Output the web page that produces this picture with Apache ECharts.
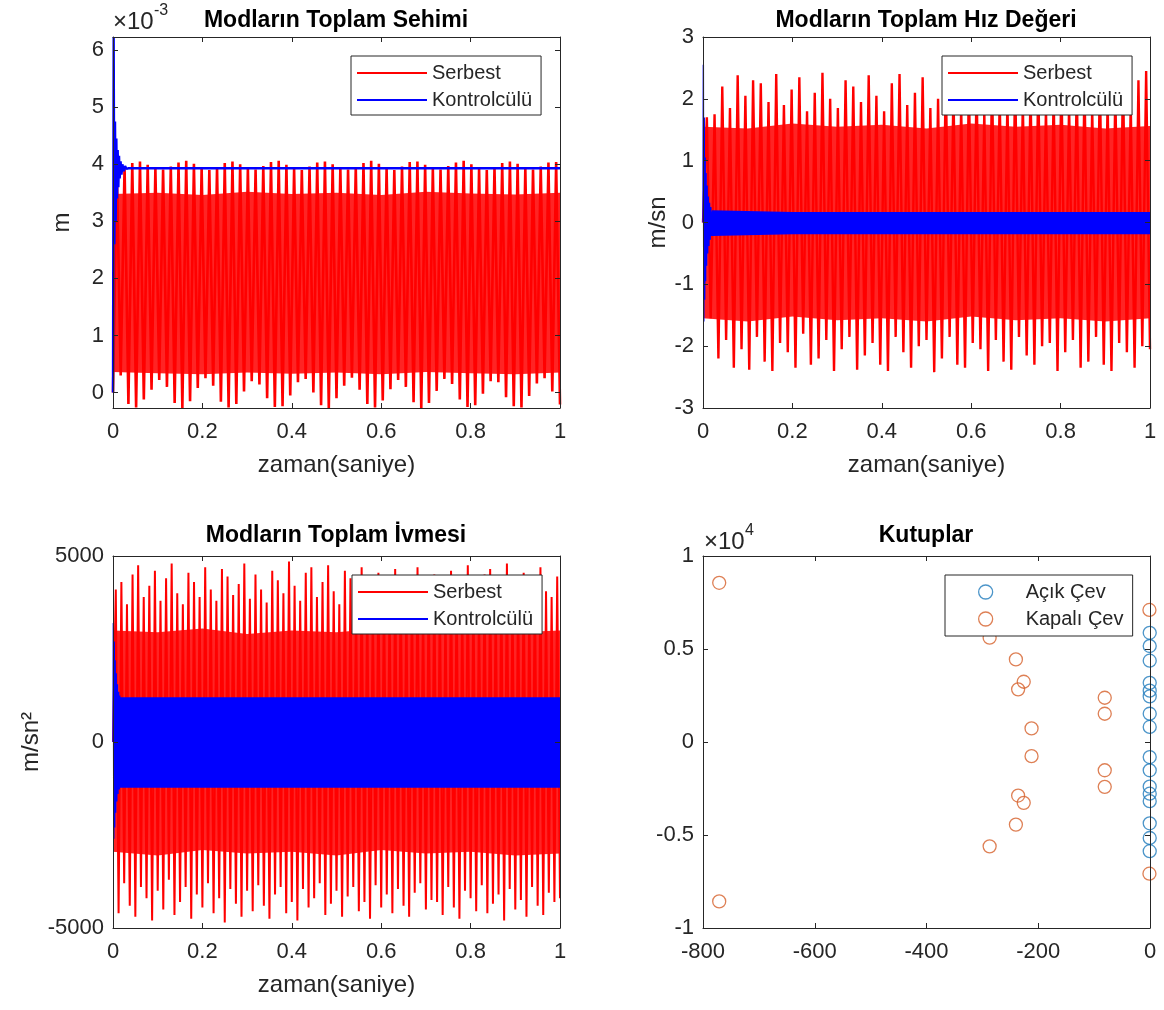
<!DOCTYPE html>
<html>
<head>
<meta charset="utf-8">
<title>Modların Toplam Değerleri</title>
<script src="https://cdn.jsdelivr.net/npm/echarts@6/dist/echarts.min.js"></script>
<style>
  html, body { margin: 0; background: #fff; }
  #chart { width: 1164px; height: 1010px; }
</style>
</head>
<body>
<div id="chart"></div>
<script>
// ---- data ----

// Sehim (x10^-3 m): peak / trough of each free-vibration cycle
const defMax = [3.90,3.97,4.02,4.05,3.99,3.93,3.91,3.96,4.03,4.06,
                4.01,3.94,3.90,3.95,4.02,4.05,4.00,3.93,3.91,3.97,
                4.04,4.06,3.99,3.92,3.90,3.96,4.03,4.05,4.00,3.94,
                3.91,3.95,4.02,4.06,4.01,3.93,3.90,3.96,4.04,4.05,
                3.99,3.92,3.91,3.97,4.03,4.06,4.00,3.93,3.90,3.95,
                4.02,4.05,4.01,3.94,3.91,3.96,4.03,4.04];
const defMin = [0.30,-0.20,-0.26,-0.12,0.05,0.22,0.10,-0.18,-0.27,-0.15,
                0.08,0.25,0.12,-0.16,-0.26,-0.20,0.02,0.20,0.14,-0.10,
                -0.25,-0.24,-0.05,0.18,0.24,0.00,-0.22,-0.27,-0.10,0.12,
                0.26,0.05,-0.20,-0.26,-0.14,0.06,0.22,0.10,-0.17,-0.27,
                -0.18,0.03,0.24,0.15,-0.12,-0.25,-0.22,-0.02,0.20,0.18,
                -0.08,-0.24,-0.26,-0.06,0.16,0.25,0.02,-0.21];
// dense (solid) part of the red trace, every 0.1 s
const coreT      = [0,0.1,0.2,0.3,0.4,0.5,0.6,0.7,0.8,0.9,1.0];
const defCoreLo  = [0.36,0.34,0.32,0.35,0.33,0.35,0.32,0.36,0.34,0.32,0.35];
const defCoreHi  = [3.48,3.50,3.46,3.52,3.48,3.50,3.46,3.52,3.49,3.47,3.50];
// controlled deflection
const blueDefT = [0,0.0015,0.003,0.0045,0.006,0.0075,0.009,0.0105,0.012,0.0135,0.015,0.017,0.019,0.021,0.024,0.027,0.030,0.035,1.0];
const blueDefV = [0,6.23,2.60,4.75,3.00,4.45,3.40,4.25,3.60,4.15,3.75,4.05,3.82,4.00,3.88,3.97,3.92,3.93,3.93];

// Hız (m/sn)
const velMax = [1.70,1.75,2.20,1.85,2.38,2.05,2.30,2.25,1.95,2.40,
                1.90,2.15,2.35,1.80,2.10,2.42,2.00,1.85,2.30,2.20,
                1.95,2.38,2.05,1.80,2.25,2.40,1.90,2.10,2.35,1.85,
                2.00,2.42,2.15,1.90,2.30,2.25,1.80,2.38,2.05,2.00,
                2.40,1.95,2.20,2.35,1.85,2.10,2.42,1.90,2.25,2.30,
                1.85,2.38,2.00,2.15,2.40,1.95,2.30,2.45];
const velMin = [-1.55,-2.20,-1.90,-2.35,-2.05,-2.38,-1.85,-2.25,-2.40,-1.95,
                -2.10,-2.35,-1.80,-2.30,-2.20,-1.90,-2.40,-2.05,-1.85,-2.38,
                -2.15,-1.95,-2.30,-2.40,-1.85,-2.10,-2.35,-2.00,-1.90,-2.42,
                -2.20,-1.85,-2.30,-2.35,-1.95,-2.05,-2.40,-1.90,-2.25,-2.38,
                -1.85,-2.15,-2.30,-2.00,-1.95,-2.40,-2.10,-1.90,-2.35,-2.25,
                -1.85,-2.30,-2.40,-1.95,-2.10,-2.35,-2.00,-2.05];
const velCoreLo = [-1.55,-1.60,-1.52,-1.58,-1.55,-1.60,-1.52,-1.58,-1.55,-1.60,-1.55];
const velCoreHi = [1.55,1.52,1.60,1.55,1.58,1.52,1.60,1.55,1.58,1.52,1.56];
const blueVelT = [0,0.0008,0.0018,0.0028,0.0038,0.0048,0.0058,0.0068,0.0080,0.0092,0.0105,0.0118,0.0132,0.0146,0.0160,0.0175,0.0190,0.0200];
const blueVelV = [0,2.55,-1.60,1.70,-1.25,1.05,-0.95,0.80,-0.70,0.60,-0.50,0.42,-0.38,0.32,-0.28,0.25,-0.22,0.18];
const blueVelBandT  = [0.02,0.2,0.4,0.6,0.8,1.0];
const blueVelBandLo = [-0.22,-0.19,-0.19,-0.19,-0.19,-0.19];
const blueVelBandHi = [0.20,0.17,0.17,0.17,0.17,0.17];

// İvme (m/sn^2)
const accMax = [4100,4300,3700,4500,4750,3900,4200,4600,3800,4400,
                4800,4000,3700,4550,4300,3900,4700,4100,3800,4650,
                4450,3950,4250,4800,3850,4500,4100,3750,4600,4350,
                4000,4850,4200,3800,4550,4700,3900,4300,4750,4050,
                3700,4600,4400,3950,4700,4150,3800,4550,4300,3900,
                4650,4450,4000,4250,4700,3850,4400,4500,4100,3750,
                4600,4300,3900,4750,4200,3800,4500,4650,4000,4350,
                4800,3950,4250,4550,3850,4400,4700,4050,3900,4450];
const accMin = [-4600,-3800,-4400,-4700,-3900,-4200,-4800,-4000,-4500,-3700,
                -4650,-4300,-3900,-4750,-4100,-4450,-3800,-4600,-4200,-4850,
                -3950,-4350,-4700,-4000,-4550,-3850,-4400,-4750,-4100,-3900,
                -4600,-4300,-4800,-3950,-4450,-4200,-3800,-4650,-4350,-4000,
                -4700,-4150,-3900,-4550,-4300,-4750,-3850,-4450,-4100,-4600,
                -3950,-4400,-4700,-4050,-3800,-4500,-4250,-4300,-4650,-3900,
                -4450,-4750,-4000,-4200,-4550,-3850,-4600,-4350,-4100,-4800,
                -3950,-4500,-4250,-4700,-3900,-4400,-4650,-4050,-4300,-4200];
const accCoreLo = [-2950,-3050,-2900,-3000,-2950,-3050,-2900,-3000,-2950,-3050,-3000];
const accCoreHi = [3000,2950,3050,2900,3000,2950,3050,2900,3000,2950,3000];
const blueAccT = [0,0.0008,0.0018,0.0028,0.0038,0.0048,0.0060,0.0072,0.0085,0.0098,0.0112,0.0126,0.0140,0.0150];
const blueAccV = [0,3200,-2600,2700,-2300,2200,-1900,1850,-1600,1550,-1400,1350,-1280,1250];
const blueAccBandT  = [0.015,0.2,0.4,0.6,0.8,1.0];
const blueAccBandLo = [-1230,-1230,-1230,-1230,-1230,-1230];
const blueAccBandHi = [1200,1200,1200,1200,1200,1200];

// Kutuplar (Re, Im x10^4)
const acikRe = [-0.5,-0.5,-0.5,-0.5,-0.5,-0.5,-0.5,-0.5,-0.5,-0.5,-0.5,-0.5,-0.5,-0.5,-0.5,-0.5];
const acikIm = [0.587,0.516,0.437,0.318,0.276,0.245,0.152,0.081,-0.081,-0.152,-0.240,-0.278,-0.318,-0.437,-0.516,-0.587];
const kapaliRe = [-771,-771,-1,-1,-287,-287,-240,-240,-226,-236,-236,-226,-212,-212,-81,-81,-81,-81];
const kapaliIm = [0.856,-0.857,0.710,-0.708,0.561,-0.561,0.444,-0.444,0.324,0.283,-0.288,-0.327,0.073,-0.076,0.238,0.152,-0.152,-0.241];

const defTicks = [0,1,2,3,4,5,6];

// ---- chart ----
const FONT = "'Liberation Sans', Arial, Helvetica, sans-serif";
const AX = '#262626';
const RED = '#ff0000', RED_CORE = '#ff2424', BLUE = '#0000ff';
const C_ACIK = '#1f7bbb', C_KAPALI = '#d6602b';

const grids = [
  {left: 113, top: 37,  width: 447, height: 371},
  {left: 703, top: 37,  width: 447, height: 371},
  {left: 113, top: 556, width: 447, height: 372},
  {left: 703, top: 556, width: 447, height: 372}
].map(g => Object.assign(g, {outerBoundsMode: 'none'}));

// one line per cycle edge: peak, trough, peak, ...
function zigzag(maxs, mins, start){
  const n = Math.min(maxs.length, mins.length);
  const step = 1 / n;
  const pts = [[0, start]];
  for (let i = 0; i < n; i++){
    pts.push([(i + 0.5) * step, maxs[i]]);
    pts.push([(i + 1) * step, mins[i]]);
  }
  return pts;
}
const pairs = (t, v) => t.map((x, i) => [x, v[i]]);

// solid region between a lower and an upper envelope
function band(g, t, lo, hi, color, z){
  return {type: 'custom', xAxisIndex: g, yAxisIndex: g, silent: true, z, clip: true,
    data: t.map((x, i) => [x, lo[i], hi[i]]),
    encode: {x: 0, y: [1, 2]},
    renderItem: (params, api) => {
      if (params.dataIndex !== 0) return;
      const up = t.map((x, i) => api.coord([x, hi[i]]));
      const dn = t.map((x, i) => api.coord([x, lo[i]])).reverse();
      return {type: 'polygon', shape: {points: up.concat(dn)}, style: {fill: color}};
    }};
}
function line(g, name, data, color, width, z){
  return {type: 'line', name, xAxisIndex: g, yAxisIndex: g, data, showSymbol: false, symbol: 'none',
    silent: true, itemStyle: {color}, lineStyle: {color, width}, z};
}

function xAx(g, min, max, interval, name, mirror){
  return {type: 'value', gridIndex: g, min, max, interval, position: mirror ? 'top' : 'bottom', z: 8,
    name: mirror ? '' : name, nameLocation: 'middle', nameGap: 45,
    nameTextStyle: {fontSize: 24, color: AX, fontFamily: FONT},
    axisLine: {show: true, onZero: false, lineStyle: {color: AX, width: 1}},
    axisTick: {show: true, inside: true, length: 5, lineStyle: {color: AX}},
    axisLabel: {show: !mirror, fontSize: 22, color: AX, fontFamily: FONT, margin: 13, formatter: v => String(v)},
    splitLine: {show: false}};
}
function yAx(g, min, max, interval, name, gap, mirror, custom){
  const a = {type: 'value', gridIndex: g, min, max, position: mirror ? 'right' : 'left', z: 8,
    name: mirror ? '' : name, nameLocation: 'middle', nameGap: gap,
    nameTextStyle: {fontSize: 24, color: AX, fontFamily: FONT},
    axisLine: {show: true, onZero: false, lineStyle: {color: AX, width: 1}},
    axisTick: {show: true, inside: true, length: 5, lineStyle: {color: AX}},
    axisLabel: {show: !mirror, fontSize: 22, color: AX, fontFamily: FONT, margin: 9, formatter: v => String(v)},
    splitLine: {show: false}};
  if (custom){
    a.axisTick.customValues = custom;
    a.axisLabel.customValues = custom;
  } else {
    a.interval = interval;
  }
  return a;
}

function lineLegend(left, top){
  return {left, top, orient: 'vertical', selectedMode: false, z: 10,
    data: [{name: 'Serbest', icon: 'rect'}, {name: 'Kontrolcülü', icon: 'rect'}],
    itemWidth: 70, itemHeight: 2, itemGap: 7, padding: [7, 9, 5, 6],
    backgroundColor: '#fff', borderColor: AX, borderWidth: 1, borderRadius: 0,
    textStyle: {fontSize: 20, lineHeight: 20, color: AX, fontFamily: FONT, width: 100}};
}

const series = [
  // sehim
  band(0, coreT, defCoreLo, defCoreHi, RED_CORE, 2),
  line(0, 'Serbest', zigzag(defMax, defMin, 0), RED, 2.6, 3),
  line(0, 'Kontrolcülü', pairs(blueDefT, blueDefV), BLUE, 2.4, 5),
  // hız
  band(1, coreT, velCoreLo, velCoreHi, RED_CORE, 2),
  line(1, 'Serbest', zigzag(velMax, velMin, 0), RED, 2.4, 3),
  band(1, blueVelBandT, blueVelBandLo, blueVelBandHi, BLUE, 4),
  line(1, 'Kontrolcülü', pairs(blueVelT, blueVelV), BLUE, 1.4, 5),
  // ivme
  band(2, coreT, accCoreLo, accCoreHi, RED_CORE, 2),
  line(2, 'Serbest', zigzag(accMax, accMin, 0), RED, 2.0, 3),
  band(2, blueAccBandT, blueAccBandLo, blueAccBandHi, BLUE, 4),
  line(2, 'Kontrolcülü', pairs(blueAccT, blueAccV), BLUE, 1.4, 5),
  // kutuplar
  {type: 'scatter', name: 'Açık Çev', xAxisIndex: 3, yAxisIndex: 3, data: pairs(acikRe, acikIm),
    symbol: 'circle', symbolSize: 13, clip: false, z: 3,
    itemStyle: {color: 'rgba(0,0,0,0)', borderColor: C_ACIK, borderWidth: 1.3}},
  {type: 'scatter', name: 'Kapalı Çev', xAxisIndex: 3, yAxisIndex: 3, data: pairs(kapaliRe, kapaliIm),
    symbol: 'circle', symbolSize: 13, clip: false, z: 3,
    itemStyle: {color: 'rgba(0,0,0,0)', borderColor: C_KAPALI, borderWidth: 1.3}}
];

const titleStyle = {fontSize: 23, fontWeight: 'bold', color: '#000', fontFamily: FONT};
const option = {
  animation: false,
  backgroundColor: '#fff',
  title: [
    {text: 'Modların Toplam Sehimi',     left: 336, top: 9,   textAlign: 'center', padding: 0, textStyle: titleStyle},
    {text: 'Modların Toplam Hız Değeri', left: 926, top: 9,   textAlign: 'center', padding: 0, textStyle: titleStyle},
    {text: 'Modların Toplam İvmesi',     left: 336, top: 524, textAlign: 'center', padding: 0, textStyle: titleStyle},
    {text: 'Kutuplar',                   left: 926, top: 524, textAlign: 'center', padding: 0, textStyle: titleStyle}
  ],
  grid: grids,
  xAxis: [
    xAx(0, 0, 1, 0.2, 'zaman(saniye)', false),
    xAx(1, 0, 1, 0.2, 'zaman(saniye)', false),
    xAx(2, 0, 1, 0.2, 'zaman(saniye)', false),
    xAx(3, -800, 0, 200, '', false),
    xAx(0, 0, 1, 0.2, '', true),
    xAx(1, 0, 1, 0.2, '', true),
    xAx(2, 0, 1, 0.2, '', true),
    xAx(3, -800, 0, 200, '', true)
  ],
  yAxis: [
    yAx(0, -0.27, 6.23, null, 'm', 39, false, defTicks),
    yAx(1, -3, 3, 1, 'm/sn', 33, false),
    yAx(2, -5000, 5000, 5000, 'm/sn²', 38, false),
    yAx(3, -1, 1, 0.5, '', 40, false),
    yAx(0, -0.27, 6.23, null, '', 0, true, defTicks),
    yAx(1, -3, 3, 1, '', 0, true),
    yAx(2, -5000, 5000, 5000, '', 0, true),
    yAx(3, -1, 1, 0.5, '', 0, true)
  ],
  legend: [
    lineLegend(351, 56),
    lineLegend(942, 56),
    lineLegend(352, 575),
    {left: 945, top: 575, orient: 'vertical', selectedMode: false, z: 10,
      data: [
        {name: 'Açık Çev', icon: 'circle', itemStyle: {color: 'rgba(0,0,0,0)', borderColor: C_ACIK, borderWidth: 1.3}},
        {name: 'Kapalı Çev', icon: 'circle', itemStyle: {color: 'rgba(0,0,0,0)', borderColor: C_KAPALI, borderWidth: 1.3}}
      ],
      itemWidth: 14, itemHeight: 14, itemGap: 7, padding: [7, 7, 7, 33],
      backgroundColor: '#fff', borderColor: AX, borderWidth: 1, borderRadius: 0,
      textStyle: {fontSize: 20, lineHeight: 20, color: AX, fontFamily: FONT, width: 100, padding: [0, 0, 0, 28]}}
  ],
  graphic: [
    {type: 'text', left: 113, top: 10, style: {text: '×10', font: '24px ' + FONT, fill: AX}},
    {type: 'text', left: 154, top: 3,  style: {text: '-3',  font: '16px ' + FONT, fill: AX}},
    {type: 'text', left: 704, top: 530, style: {text: '×10', font: '24px ' + FONT, fill: AX}},
    {type: 'text', left: 745, top: 523, style: {text: '4',   font: '16px ' + FONT, fill: AX}}
  ],
  series
};

const chart = echarts.init(document.getElementById('chart'));
chart.setOption(option);
window.addEventListener('resize', () => chart.resize());
</script>
</body>
</html>
